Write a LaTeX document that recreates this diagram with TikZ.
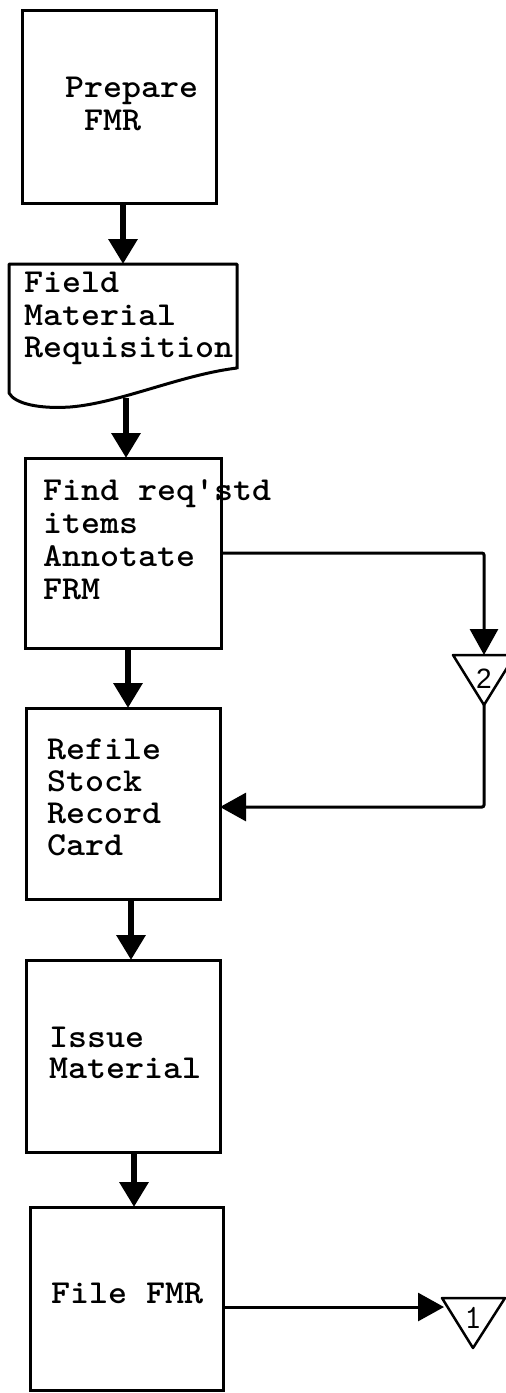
\documentclass[tikz,border=0pt]{standalone}
\usepackage{fontspec}
\setsansfont{Liberation Sans}
\usetikzlibrary{arrows.meta}
\newcommand{\tw}[1]{\scalebox{1.08}[1]{#1}}
\begin{document}
\begin{tikzpicture}[x=1pt,y=-1pt,
  box/.style={draw, line width=3pt, rectangle, inner sep=0pt, outer sep=0pt},
  lbl/.style={anchor=base west, inner sep=0pt, font=\fontsize{33.5}{33.5}\selectfont\ttfamily\bfseries},
  heavyarrow/.style={line width=6.5pt, -{Triangle[length=25pt,width=28pt]}},
  lightarrow/.style={line width=3pt, -{Triangle[length=26pt,width=28pt]}},
  conn/.style={line width=2.5pt, line join=round},
  ]
\useasboundingbox (0,0) rectangle (506,1393);
\fill[white] (0,0) rectangle (506,1393);

% boxes
\node[box, minimum width=194, minimum height=193] (b1) at (119,106.5) {};
\node[box, minimum width=196, minimum height=190] (b3) at (123,553) {};
\node[box, minimum width=194, minimum height=191] (b4) at (123,803.5) {};
\node[box, minimum width=194, minimum height=192] (b5) at (123,1056) {};
\node[box, minimum width=193, minimum height=183] (b6) at (126.5,1298.5) {};

% document shape
\coordinate (docn) at (123,264);
\coordinate (docb) at (126,398);
\draw[line width=3pt, line join=round]
  (237,369) -- (237,264) -- (9,264) -- (9,393)
  .. controls (15,404) and (40,409) .. (70,407)
  .. controls (120,403) and (180,375) .. (237,368);

% off-page connectors
\coordinate (t2n) at (484,655);
\coordinate (t2s) at (484,705);
\draw[conn] (453,655) -- (515,655) -- (t2s) -- cycle;
\node[inner sep=0pt, font=\fontsize{28}{28}\selectfont\sffamily] (t2lbl) at (484,679) {2};

\coordinate (t1w) at (444,1307);
\draw[conn] (442,1298) -- (505,1298) -- (473,1348) -- cycle;
\node[inner sep=0pt, font=\fontsize{34}{34}\selectfont\ttfamily] (t1lbl) at (473,1318) {1};

% texts
\node[lbl] (p1) at (65,97) {\tw{Prepare}};
\node[lbl] (p2) at (65,130) {\tw{\ FMR}};

\node[lbl] (d1) at (24,292) {\tw{Field}};
\node[lbl] (d2) at (24,325) {\tw{Material}};
\node[lbl] (d3) at (24,357) {\tw{Requisition}};

\node[lbl] (f1) at (43,500) {\tw{Find req'std}};
\node[lbl] (f2) at (43,533) {\tw{items}};
\node[lbl] (f3) at (43,566) {\tw{Annotate}};
\node[lbl] (f4) at (43,599) {\tw{FRM}};

\node[lbl] (r1) at (47,759) {\tw{Refile}};
\node[lbl] (r2) at (47,791) {\tw{Stock}};
\node[lbl] (r3) at (47,823) {\tw{Record}};
\node[lbl] (r4) at (47,855) {\tw{Card}};

\node[lbl] (i1) at (49,1047) {\tw{Issue}};
\node[lbl] (i2) at (49,1078) {\tw{Material}};

\node[lbl] (ff) at (51,1303) {\tw{File FMR}};

% connectors
\coordinate (x1) at (123,0);
\coordinate (x3) at (128,0);
\coordinate (x4) at (131,0);
\coordinate (x5) at (134,0);
\draw[heavyarrow] (x1 |- b1.south) -- (docn);
\draw[heavyarrow] (docb) -- (docb |- b3.north);
\draw[heavyarrow] (x3 |- b3.south) -- (x3 |- b4.north);
\draw[heavyarrow] (x4 |- b4.south) -- (x4 |- b5.north);
\draw[heavyarrow] (x5 |- b5.south) -- (x5 |- b6.north);

\coordinate (r4in) at (220,807);
\draw[lightarrow, rounded corners=2pt] (b3.east) -| (t2n);
\draw[lightarrow, rounded corners=2pt] (t2s) |- (r4in);
\draw[lightarrow] (b6.east |- t1w) -- (t1w);
\end{tikzpicture}
\end{document}
